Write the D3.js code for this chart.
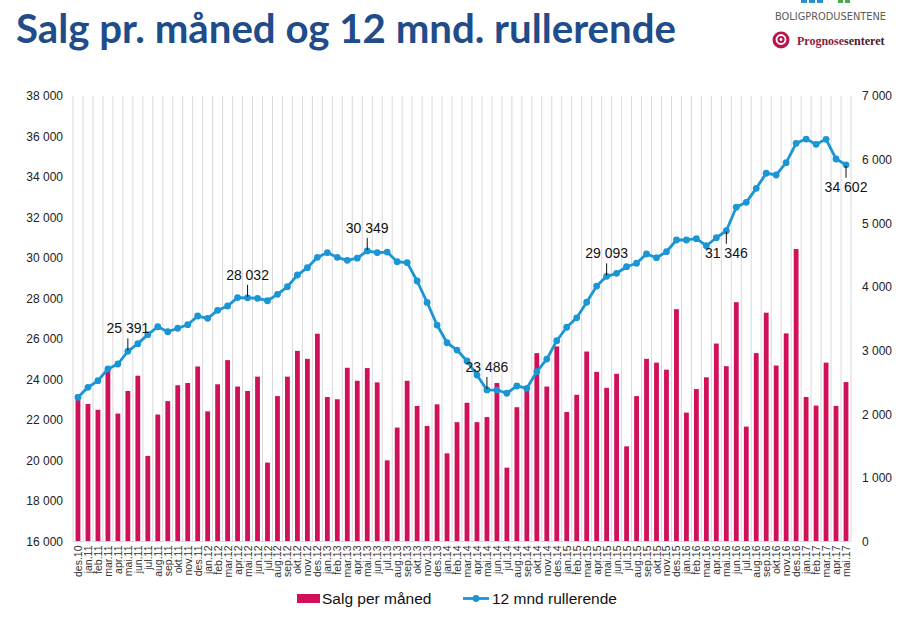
<!DOCTYPE html>
<html>
<head>
<meta charset="utf-8">
<script src="https://cdn.jsdelivr.net/npm/d3@7"></script>
<style>
  html, body { margin: 0; padding: 0; background: #fff; }
  svg { display: block; }
</style>
</head>
<body>
<svg id="chart" width="914" height="626"></svg>
<script>
const months = [
  "des.10",
  "jan.11","feb.11","mar.11","apr.11","mai.11","jun.11","jul.11","aug.11","sep.11","okt.11","nov.11","des.11",
  "jan.12","feb.12","mar.12","apr.12","mai.12","jun.12","jul.12","aug.12","sep.12","okt.12","nov.12","des.12",
  "jan.13","feb.13","mar.13","apr.13","mai.13","jun.13","jul.13","aug.13","sep.13","okt.13","nov.13","des.13",
  "jan.14","feb.14","mar.14","apr.14","mai.14","jun.14","jul.14","aug.14","sep.14","okt.14","nov.14","des.14",
  "jan.15","feb.15","mar.15","apr.15","mai.15","jun.15","jul.15","aug.15","sep.15","okt.15","nov.15","des.15",
  "jan.16","feb.16","mar.16","apr.16","mai.16","jun.16","jul.16","aug.16","sep.16","okt.16","nov.16","des.16",
  "jan.17","feb.17","mar.17","apr.17","mai.17"
];

const salesPerMonth = [
  2310,
  2160,2070,2670,2010,2365,2605,1345,1995,2205,2455,2490,2750,
  2045,2470,2850,2435,2365,2590,1240,2285,2590,2995,2870,3265,
  2270,2235,2730,2525,2725,2500,1275,1790,2525,2130,1815,2155,
  1385,1875,2180,1875,1955,2490,1160,2110,2400,2960,2435,3065,
  2035,2305,2985,2665,2415,2635,1495,2285,2870,2810,2700,3650,
  2025,2395,2580,3110,2755,3760,1805,2960,3595,2765,3270,4595,
  2270,2135,2810,2130,2505
];

const rolling12 = [
  23120,
  23615,23940,24520,24765,25391,25770,26215,26605,26360,26530,26705,27135,
  27020,27415,27630,28045,28032,28010,27890,28205,28585,29160,29520,30035,
  30260,30035,29885,29990,30349,30260,30295,29815,29770,28865,27805,26690,
  25815,25455,24915,24220,23486,23480,23320,23680,23565,24385,25010,25915,
  26580,27045,27815,28615,29093,29245,29570,29740,30200,30015,30310,30890,
  30890,30955,30605,31000,31346,32505,32750,33440,34185,34100,34705,35665,
  35875,35615,35860,34890,34602
];

const leftTicks = [16000,18000,20000,22000,24000,26000,28000,30000,32000,34000,36000,38000];
const rightTicks = [0,1000,2000,3000,4000,5000,6000,7000];

const labelMonths = ["mai.11","mai.12","mai.13","mai.14","mai.15","mai.16","mai.17"];
const labelSides  = ["above","above","above","above","above","below","below"];

const seriesNames = ["Salg per måned","12 mnd rullerende"];
const titleText = "Salg pr. måned og 12 mnd. rullerende";

// ---------------------------------------------------------------
const svg = d3.select("#chart");
const plot = { left: 73, right: 851, top: 96, bottom: 541.5 };
const barColor = "#D0105A";
const lineColor = "#1B96D4";
const font = "'Liberation Sans', Arial, sans-serif";

const nb = d3.formatLocale({ decimal: ",", thousands: "\u00a0", grouping: [3], currency: ["", ""] });
const fmt = v => nb.format(",")(v).replace(/\u00a0/g, " ");

const x = d3.scaleBand().domain(months).range([plot.left, plot.right]).paddingInner(0).paddingOuter(0);
const yL = d3.scaleLinear().domain([16000, 38000]).range([plot.bottom, plot.top]);
const yR = d3.scaleLinear().domain([0, 7000]).range([plot.bottom, plot.top]);

// Title
svg.append("text")
  .attr("x", 16).attr("y", 43)
  .attr("font-family", "Lato, 'Open Sans', sans-serif")
  .attr("font-weight", "bold")
  .attr("font-size", 40)
  .attr("fill", "#1F4C8A")
  .attr("textLength", 660).attr("lengthAdjust", "spacingAndGlyphs")
  .text(titleText);

// Logos (top right)
const logo = svg.append("g");
[[801, 6], [809, 6], [817, 6]].forEach(([lx, w]) =>
  logo.append("rect").attr("x", lx).attr("y", 0).attr("width", w).attr("height", 3).attr("fill", "#2E8FD0"));
[[838, 5], [845, 5]].forEach(([lx, w]) =>
  logo.append("rect").attr("x", lx).attr("y", 0).attr("width", w).attr("height", 3).attr("fill", "#4BAA4B"));
logo.append("text")
  .attr("x", 775).attr("y", 20)
  .attr("font-family", "'DejaVu Sans', sans-serif")
  .attr("font-size", 10)
  .attr("fill", "#5a5a5a")
  .attr("textLength", 111).attr("lengthAdjust", "spacingAndGlyphs")
  .text("BOLIGPRODUSENTENE");
logo.append("circle").attr("cx", 781).attr("cy", 40).attr("r", 8.5).attr("fill", "#B5174A");
logo.append("circle").attr("cx", 781).attr("cy", 39.5).attr("r", 4.5).attr("fill", "none").attr("stroke", "#fff").attr("stroke-width", 1.8);
logo.append("circle").attr("cx", 781).attr("cy", 39.5).attr("r", 1.4).attr("fill", "#fff");
const ptxt = logo.append("text")
  .attr("x", 797).attr("y", 45)
  .attr("font-family", "'Liberation Serif', 'DejaVu Serif', serif")
  .attr("font-weight", "bold")
  .attr("font-size", 12);
ptxt.append("tspan").attr("fill", "#8C1C3C").text("Prognose");
ptxt.append("tspan").attr("fill", "#4a2030").text("senteret");

// Vertical gridlines at category boundaries
const bounds = months.map(m => x(m)).concat([plot.right]);
svg.append("g").selectAll("line").data(bounds).join("line")
  .attr("x1", d => d).attr("x2", d => d)
  .attr("y1", plot.top).attr("y2", plot.bottom)
  .attr("stroke", "#d9d9d9").attr("stroke-width", 1);

// Bars
const barW = 4.8;
svg.append("g").selectAll("rect").data(salesPerMonth).join("rect")
  .attr("x", (d, i) => x(months[i]) + x.bandwidth() / 2 - barW / 2)
  .attr("width", barW)
  .attr("y", d => yR(d))
  .attr("height", d => yR(0) - yR(d))
  .attr("fill", barColor);

// Baseline
svg.append("line")
  .attr("x1", plot.left).attr("x2", plot.right)
  .attr("y1", plot.bottom).attr("y2", plot.bottom)
  .attr("stroke", "#d9d9d9");

// Left axis
const leftAxis = d3.axisLeft(yL).tickValues(leftTicks).tickFormat(fmt).tickSize(0).tickPadding(10);
const gL = svg.append("g").attr("transform", `translate(${plot.left},0)`).call(leftAxis);
gL.select(".domain").remove();
gL.selectAll("text").attr("font-family", font).attr("font-size", 12).attr("fill", "#222");

// Right axis
const rightAxis = d3.axisRight(yR).tickValues(rightTicks).tickFormat(fmt).tickSize(0).tickPadding(11);
const gR = svg.append("g").attr("transform", `translate(${plot.right},0)`).call(rightAxis);
gR.select(".domain").remove();
gR.selectAll("text").attr("font-family", font).attr("font-size", 12).attr("fill", "#222");

// Bottom axis (rotated labels)
const bottomAxis = d3.axisBottom(x).tickSize(0).tickPadding(0);
const gB = svg.append("g").attr("transform", `translate(0,${plot.bottom})`).call(bottomAxis);
gB.select(".domain").remove();
gB.selectAll("text")
  .attr("font-family", font).attr("font-size", 10.5).attr("fill", "#333")
  .attr("text-anchor", "end")
  .attr("dy", null)
  .attr("transform", "translate(0,4) rotate(-90)")
  .attr("x", 0).attr("y", 0)
  .attr("dominant-baseline", "central");

// Line
const lineGen = d3.line()
  .x((d, i) => x(months[i]) + x.bandwidth() / 2)
  .y(d => yL(d));
svg.append("path").datum(rolling12)
  .attr("d", lineGen)
  .attr("fill", "none")
  .attr("stroke", lineColor)
  .attr("stroke-width", 2.8)
  .attr("stroke-linejoin", "round");
svg.append("g").selectAll("circle").data(rolling12).join("circle")
  .attr("cx", (d, i) => x(months[i]) + x.bandwidth() / 2)
  .attr("cy", d => yL(d))
  .attr("r", 3.4)
  .attr("fill", lineColor);

// Data labels with leader lines
const ann = svg.append("g");
labelMonths.forEach((m, k) => {
  const i = months.indexOf(m);
  const cx = x(m) + x.bandwidth() / 2;
  const cy = yL(rolling12[i]);
  const above = labelSides[k] === "above";
  const sgn = above ? -1 : 1;
  ann.append("line")
    .attr("x1", cx).attr("x2", cx)
    .attr("y1", cy + sgn * 1).attr("y2", cy + sgn * 13)
    .attr("stroke", "#111").attr("stroke-width", 1);
  ann.append("text")
    .attr("x", cx)
    .attr("y", above ? cy - 18 : cy + 27)
    .attr("text-anchor", "middle")
    .attr("font-family", font).attr("font-size", 14).attr("fill", "#111")
    .text(fmt(rolling12[i]));
});

// Legend
const leg = svg.append("g");
leg.append("rect").attr("x", 297).attr("y", 594).attr("width", 23).attr("height", 9).attr("fill", barColor);
leg.append("text").attr("x", 322).attr("y", 604)
  .attr("font-family", font).attr("font-size", 15.5).attr("fill", "#111")
  .text(seriesNames[0]);
leg.append("line").attr("x1", 463).attr("x2", 489).attr("y1", 598.5).attr("y2", 598.5)
  .attr("stroke", lineColor).attr("stroke-width", 2.8);
leg.append("circle").attr("cx", 476).attr("cy", 598.5).attr("r", 3.4).attr("fill", lineColor);
leg.append("text").attr("x", 492).attr("y", 604)
  .attr("font-family", font).attr("font-size", 15.5).attr("fill", "#111")
  .text(seriesNames[1]);
</script>
</body>
</html>
